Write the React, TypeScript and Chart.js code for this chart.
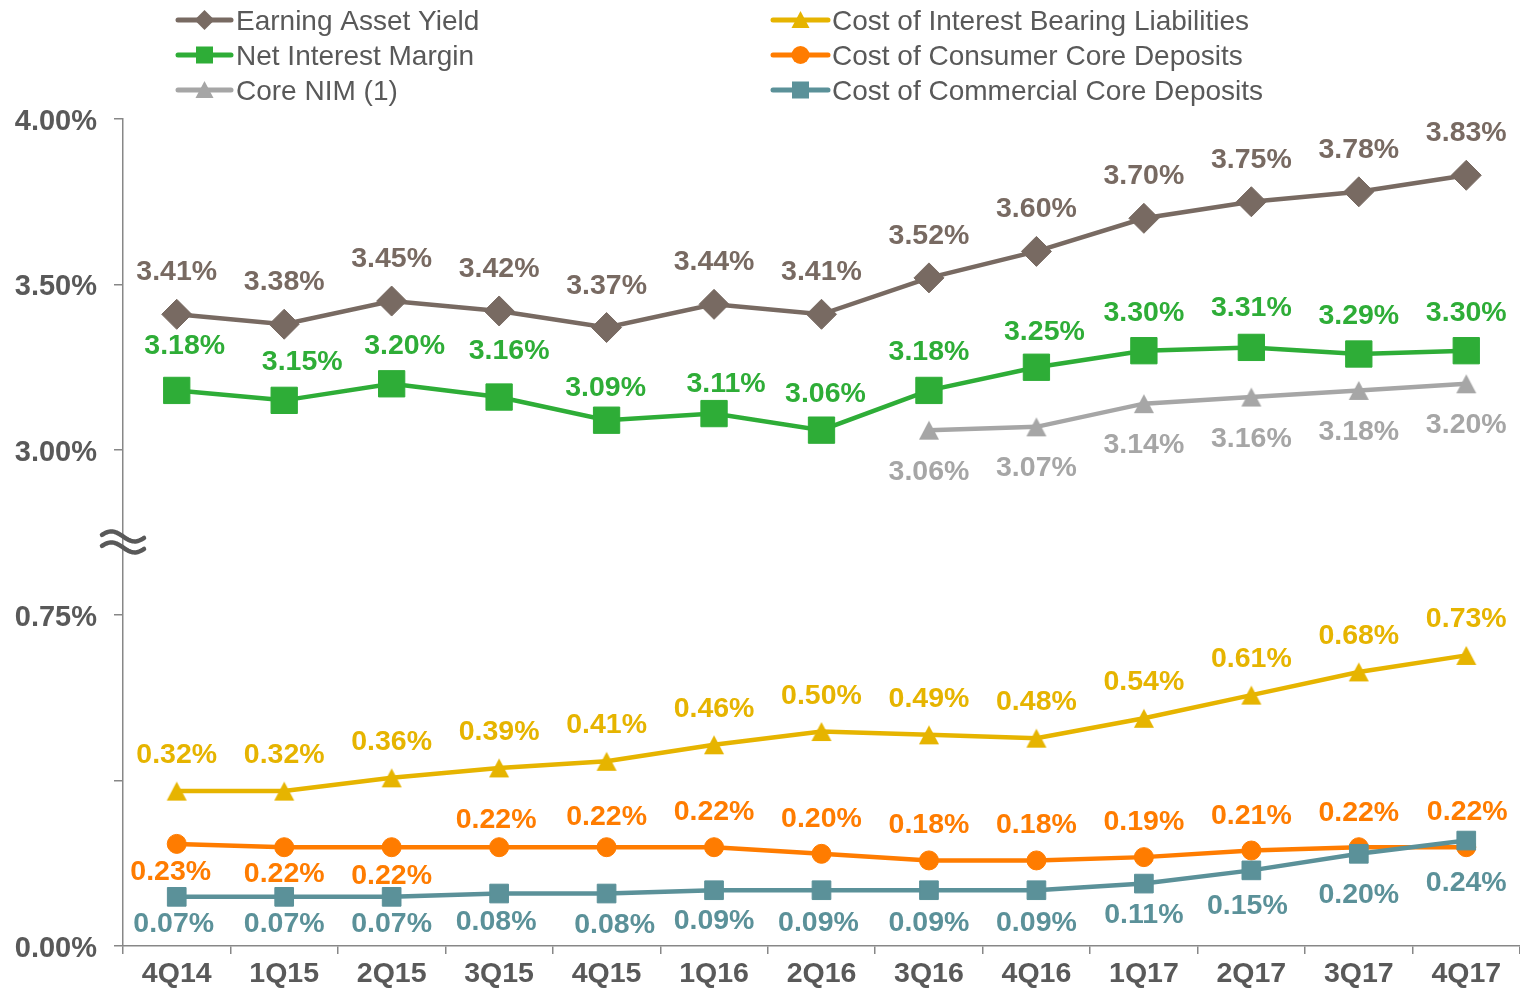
import React, { useEffect, useRef } from "react";
import { Chart, registerables } from "chart.js";

Chart.register(...registerables);

// ---------------- DATA ----------------
const quarters = ["4Q14", "1Q15", "2Q15", "3Q15", "4Q15", "1Q16", "2Q16", "3Q16", "4Q16", "1Q17", "2Q17", "3Q17", "4Q17"];
const earningAssetYield = [3.41, 3.38, 3.45, 3.42, 3.37, 3.44, 3.41, 3.52, 3.6, 3.7, 3.75, 3.78, 3.83];
const netInterestMargin = [3.18, 3.15, 3.2, 3.16, 3.09, 3.11, 3.06, 3.18, 3.25, 3.3, 3.31, 3.29, 3.3];
const coreNim = [null, null, null, null, null, null, null, 3.06, 3.07, 3.14, 3.16, 3.18, 3.2];
const costInterestBearing = [0.32, 0.32, 0.36, 0.39, 0.41, 0.46, 0.5, 0.49, 0.48, 0.54, 0.61, 0.68, 0.73];
const costConsumerCore = [0.23, 0.22, 0.22, 0.22, 0.22, 0.22, 0.2, 0.18, 0.18, 0.19, 0.21, 0.22, 0.22];
const costCommercialCore = [0.07, 0.07, 0.07, 0.08, 0.08, 0.09, 0.09, 0.09, 0.09, 0.11, 0.15, 0.2, 0.24];
// labels of the broken value axis, one per axis step from bottom to top
const axisTickLabels = ["0.00%", "", "0.75%", "3.00%", "3.50%", "4.00%"];

// ---------------- STYLE ----------------
const FONT = '"Liberation Sans", Arial, Helvetica, sans-serif';
const TEXT = "#595959";
const AXIS = "#878787";
const BROWN = "#786a62";
const GREEN = "#2ead37";
const GRAY = "#a6a6a6";
const YELLOW = "#e6b400";
const ORANGE = "#ff7c00";
const TEAL = "#5b9199";

// label placement (pixel offsets from the marker), per series
const LABEL_LAYOUT: Record<string, { dx: number | number[]; dy: number | number[] }> = {
  eay: { dx: 0, dy: -44 },
  nim: { dx: [8, 18, 13, 10, -1, 12, 4, 0, 8, 0, 0, 0, 0], dy: [-46, -40, -40, -48, -34, -32, -38, -40, -37, -40, -41, -40, -40] },
  core: { dx: 0, dy: 39.5 },
  ibl: { dx: 0, dy: -38 },
  cons: { dx: [-6, 0, 0, -3, 0, 0, 0, 0, 0, 0, 0, 0, 1], dy: [26, 25, 27, -29, -32, -37, -37, -37, -37, -37, -37, -36, -37] },
  comm: { dx: [-3, 0, 0, -3, 8, 0, -3, 0, 0, 0, -4, 0, 0], dy: [25, 25, 25, 26, 29, 29, 31, 31, 31, 29, 34, 39, 40] },
};

function triangleCanvas(color: string, w: number, h: number) {
  const c = document.createElement("canvas");
  c.width = w + 2;
  c.height = h + 2;
  const g = c.getContext("2d")!;
  g.fillStyle = color;
  g.beginPath();
  g.moveTo(1, h + 1);
  g.lineTo(w + 1, h + 1);
  g.lineTo(w / 2 + 1, 1);
  g.closePath();
  g.fill();
  return c;
}

const pick = (v: number | number[], i: number) => (Array.isArray(v) ? v[i] : v);

const pointLabelPlugin = {
  id: "pointLabels",
  afterDatasetsDraw(chart: any) {
    const ctx = chart.ctx;
    ctx.save();
    ctx.font = `bold 28.5px ${FONT}`;
    ctx.textAlign = "center";
    ctx.textBaseline = "alphabetic";
    chart.data.datasets.forEach((ds: any, di: number) => {
      const lay = LABEL_LAYOUT[ds.labelKey];
      if (!lay) return;
      const meta = chart.getDatasetMeta(di);
      meta.data.forEach((pt: any, i: number) => {
        const v = ds.data[i];
        if (v == null) return;
        ctx.fillStyle = ds.borderColor;
        ctx.fillText(v.toFixed(2) + "%", pt.x + pick(lay.dx, i), pt.y + pick(lay.dy, i) + 10);
      });
    });
    ctx.restore();
  },
};

const breakPlugin = {
  id: "axisBreak",
  afterDraw(chart: any) {
    const s = chart.scales.yAxis;
    const ctx = chart.ctx;
    const cx = s.right;
    const base = s.getPixelForValue(2.44);
    ctx.save();
    ctx.strokeStyle = TEXT;
    ctx.lineWidth = 4.5;
    ctx.lineCap = "round";
    [base - 6, base + 5].forEach((yc) => {
      ctx.beginPath();
      for (let k = 0; k <= 40; k++) {
        const u = -0.9 + (1.8 * k) / 40;
        const x = cx + 21 * (u / 0.9);
        const y = yc + 5 * Math.sin(Math.PI * u);
        if (k === 0) ctx.moveTo(x, y);
        else ctx.lineTo(x, y);
      }
      ctx.stroke();
    });
    ctx.restore();
  },
};

type LegendItem = { text: string; color: string; marker: string; col: number; row: number };
const legendItems: LegendItem[] = [
  { text: "Earning Asset Yield", color: BROWN, marker: "diamond", col: 0, row: 0 },
  { text: "Net Interest Margin", color: GREEN, marker: "square", col: 0, row: 1 },
  { text: "Core NIM (1)", color: GRAY, marker: "triangle", col: 0, row: 2 },
  { text: "Cost of Interest Bearing Liabilities", color: YELLOW, marker: "triangle", col: 1, row: 0 },
  { text: "Cost of Consumer Core Deposits", color: ORANGE, marker: "circle", col: 1, row: 1 },
  { text: "Cost of Commercial Core Deposits", color: TEAL, marker: "square", col: 1, row: 2 },
];

const legendPlugin = {
  id: "customLegend",
  afterDraw(chart: any) {
    const ctx = chart.ctx;
    const cols = [
      { x0: 178, x1: 231, text: 236 },
      { x0: 773, x1: 828, text: 832 },
    ];
    const rows = [20, 55, 90];
    ctx.save();
    legendItems.forEach((it) => {
      const c = cols[it.col];
      const y = rows[it.row];
      const mx = (c.x0 + c.x1) / 2;
      ctx.strokeStyle = it.color;
      ctx.fillStyle = it.color;
      ctx.lineWidth = 5;
      ctx.lineCap = "round";
      ctx.beginPath();
      ctx.moveTo(c.x0, y);
      ctx.lineTo(c.x1, y);
      ctx.stroke();
      ctx.beginPath();
      if (it.marker === "diamond") {
        ctx.moveTo(mx - 10, y);
        ctx.lineTo(mx, y - 10);
        ctx.lineTo(mx + 10, y);
        ctx.lineTo(mx, y + 10);
        ctx.closePath();
        ctx.fill();
      } else if (it.marker === "square") {
        ctx.fillRect(mx - 8.5, y - 8.5, 17, 17);
      } else if (it.marker === "triangle") {
        ctx.moveTo(mx - 9, y + 8);
        ctx.lineTo(mx + 9, y + 8);
        ctx.lineTo(mx, y - 9);
        ctx.closePath();
        ctx.fill();
      } else {
        ctx.arc(mx, y, 9, 0, Math.PI * 2);
        ctx.fill();
      }
      ctx.fillStyle = TEXT;
      ctx.font = `28px ${FONT}`;
      ctx.textAlign = "left";
      ctx.textBaseline = "alphabetic";
      ctx.fillText(it.text, c.text, y + 10);
    });
    ctx.restore();
  },
};

export default function App() {
  const ref = useRef<HTMLCanvasElement | null>(null);

  useEffect(() => {
    if (!ref.current) return;
    const triGray = triangleCanvas(GRAY, 20, 19);
    const triYellow = triangleCanvas(YELLOW, 20, 19);
    const common = { tension: 0, clip: false as any, borderWidth: 4.5, pointBorderWidth: 1 };
    const chart = new Chart(ref.current, {
      type: "line",
      data: {
        labels: quarters,
        datasets: [
          {
            ...common,
            label: "Earning Asset Yield",
            data: earningAssetYield,
            yAxisID: "yRate",
            borderColor: BROWN,
            backgroundColor: BROWN,
            pointBackgroundColor: BROWN,
            pointBorderColor: BROWN,
            pointStyle: "rectRot",
            pointRadius: 15,
            order: 1,
            labelKey: "eay",
          } as any,
          {
            ...common,
            label: "Net Interest Margin",
            data: netInterestMargin,
            yAxisID: "yRate",
            borderColor: GREEN,
            backgroundColor: GREEN,
            pointBackgroundColor: GREEN,
            pointBorderColor: GREEN,
            pointStyle: "rect",
            pointRadius: 18.6,
            order: 2,
            labelKey: "nim",
          } as any,
          {
            ...common,
            label: "Core NIM (1)",
            data: coreNim,
            yAxisID: "yRate",
            borderColor: GRAY,
            backgroundColor: GRAY,
            pointStyle: triGray,
            pointRadius: 10,
            order: 3,
            labelKey: "core",
          } as any,
          {
            ...common,
            label: "Cost of Interest Bearing Liabilities",
            data: costInterestBearing,
            yAxisID: "yLiab",
            borderColor: YELLOW,
            backgroundColor: YELLOW,
            pointStyle: triYellow,
            pointRadius: 10,
            order: 4,
            labelKey: "ibl",
          } as any,
          {
            ...common,
            label: "Cost of Commercial Core Deposits",
            data: costCommercialCore,
            yAxisID: "yDep",
            borderColor: TEAL,
            backgroundColor: TEAL,
            pointBackgroundColor: TEAL,
            pointBorderColor: TEAL,
            pointStyle: "rect",
            pointRadius: 13.2,
            order: 5,
            labelKey: "comm",
          } as any,
          {
            ...common,
            label: "Cost of Consumer Core Deposits",
            data: costConsumerCore,
            yAxisID: "yDep",
            borderColor: ORANGE,
            backgroundColor: ORANGE,
            pointBackgroundColor: ORANGE,
            pointBorderColor: ORANGE,
            pointStyle: "circle",
            pointRadius: 9.5,
            order: 6,
            labelKey: "cons",
          } as any,
        ],
      },
      options: {
        responsive: false,
        animation: false,
        devicePixelRatio: 1,
        events: [],
        layout: { autoPadding: false, padding: { top: 119, left: 0, right: 0, bottom: 0 } },
        plugins: { legend: { display: false }, tooltip: { enabled: false } },
        scales: {
          x: {
            type: "category",
            offset: true,
            grid: { offset: true, drawOnChartArea: false, drawTicks: true, tickLength: 8, color: AXIS, lineWidth: 1.5 },
            border: { color: AXIS, width: 1.5 },
            ticks: { autoSkip: false, maxRotation: 0, padding: 3, color: TEXT, font: { family: FONT, size: 28.5, weight: "bold" } },
            afterFit: (s: any) => {
              s.height = 49;
              s.paddingLeft = 0;
              s.paddingRight = 0;
            },
          },
          yAxis: {
            type: "linear",
            position: "left",
            min: 0,
            max: 5,
            grid: { drawOnChartArea: false, drawTicks: true, tickLength: 9, color: AXIS, lineWidth: 1.5 },
            border: { color: AXIS, width: 1.5 },
            ticks: {
              stepSize: 1,
              padding: 17,
              labelOffset: 3,
              color: TEXT,
              font: { family: FONT, size: 29, weight: "bold" },
              callback: (v: any) => axisTickLabels[Math.round(Number(v))] ?? "",
            },
            afterFit: (s: any) => {
              s.width = 123;
            },
          },
          yRate: { type: "linear", display: false, min: 1.5015, max: 4.0 },
          yDep: { type: "linear", display: false, min: -0.0785, max: 2.42 },
          yLiab: { type: "linear", display: false, min: -0.148, max: 2.3505 },
        },
      } as any,
      plugins: [pointLabelPlugin, breakPlugin, legendPlugin],
    });
    return () => chart.destroy();
  }, []);

  return (
    <div style={{ position: "absolute", left: 0, top: 0, width: 1520, height: 995, background: "#ffffff" }}>
      <canvas ref={ref} width={1520} height={995} style={{ display: "block", width: 1520, height: 995 }} />
    </div>
  );
}
